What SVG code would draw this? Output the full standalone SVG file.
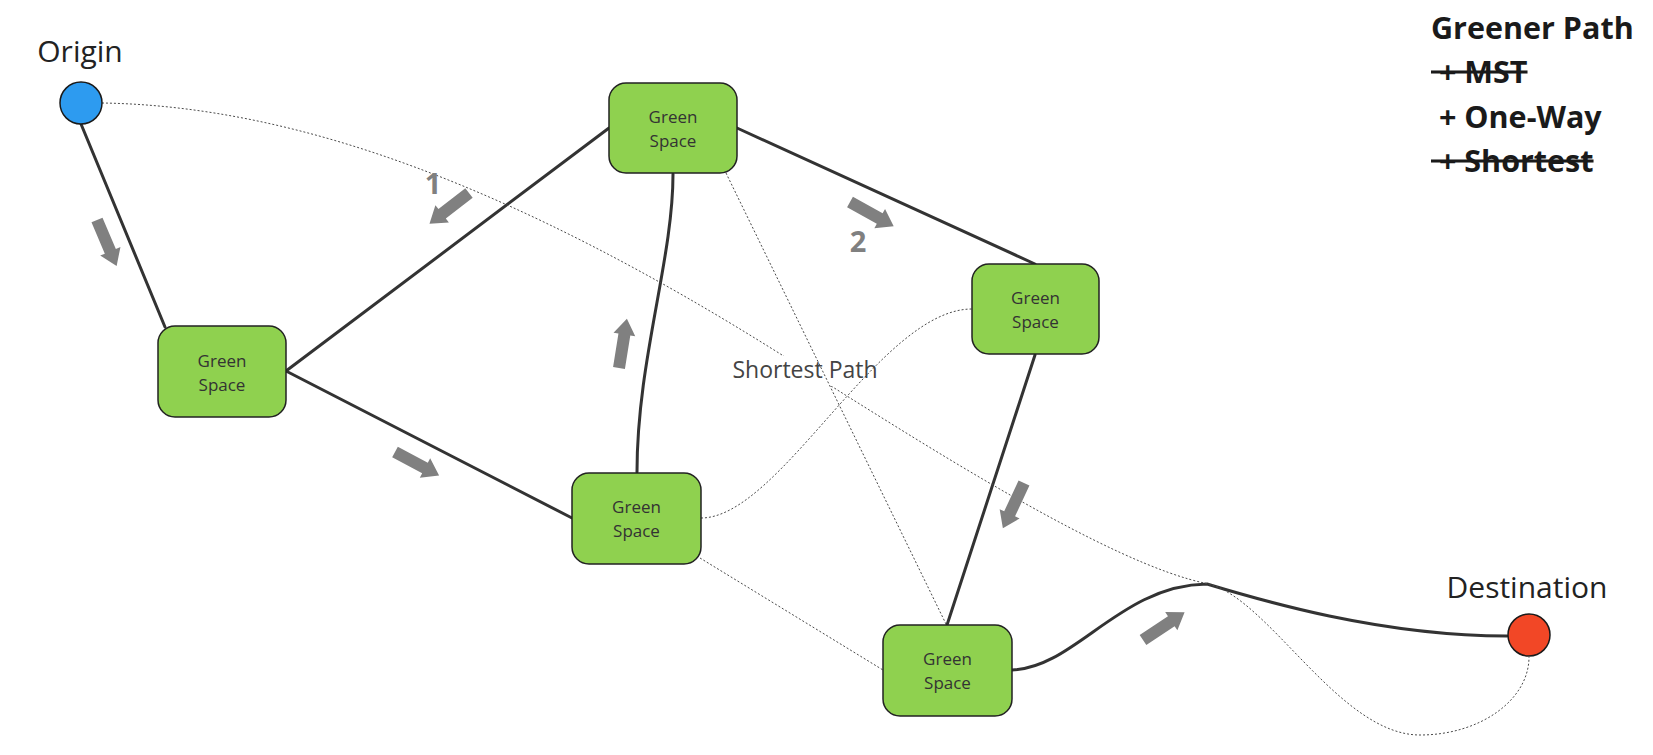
<svg xmlns="http://www.w3.org/2000/svg" xmlns:xlink="http://www.w3.org/1999/xlink" width="1653" height="755" viewBox="0 0 1653 755">
  <style>
    .node rect { fill: #8fd14f; stroke: #222; stroke-width: 1.5; }
    .node text { font-family: "Open Sans", "Noto Sans", sans-serif; font-size: 17px; fill: #333; text-anchor: middle; }
    .term { stroke: #1a1a1a; stroke-width: 1.5; }
    .big { font-family: "Open Sans", "Noto Sans", sans-serif; font-size: 30px; fill: #222; text-anchor: middle; }
    .solid { fill: none; stroke: #333; stroke-width: 3; stroke-linecap: round; }
    .dot { fill: none; stroke: #4a4a4a; stroke-width: 1; stroke-dasharray: 2 2; }
    .num { font-family: "Open Sans", "Noto Sans", sans-serif; font-size: 29px; font-weight: bold; fill: #808080; text-anchor: middle; }
    .legend { font-family: "Open Sans", "Noto Sans", sans-serif; font-size: 30.5px; font-weight: bold; fill: #1a1a1a; }
    .lbl { font-family: "Open Sans", "Noto Sans", sans-serif; font-size: 23px; fill: #444; text-anchor: middle; }
  </style>
  <defs>
    <path id="blockArrow" d="M0,-6 L34,-6 L34,-11 L50,0 L34,11 L34,6 L0,6 Z" fill="#808080"/>
    <mask id="labelGap" maskUnits="userSpaceOnUse" x="0" y="0" width="1653" height="755">
      <rect x="0" y="0" width="1653" height="755" fill="#fff"/>
      <rect x="730" y="356" width="150" height="30" fill="#000"/>
    </mask>
  </defs>
  <rect width="1653" height="755" fill="#fff"/>

  <g id="connectors">
    <!-- solid edges -->
    <line class="solid" x1="81" y1="124" x2="165" y2="327"/>
    <line class="solid" x1="286" y1="371" x2="609" y2="128"/>
    <line class="solid" x1="286" y1="371" x2="572" y2="518"/>
    <line class="solid" x1="737" y1="128" x2="1035" y2="264"/>
    <path class="solid" d="M673,174 C673,260 637,360 637,472"/>
    <line class="solid" x1="1035" y1="355" x2="947" y2="625"/>
    <path class="solid" d="M1012,670 C1075,668 1120,585 1207,584 C1260,600 1380,636 1507,636"/>
    <!-- dotted edges -->
    <path class="dot" mask="url(#labelGap)" d="M102,103 C300,106 520,190 782,355 C920,442 1110,565 1209,584 C1270,600 1340,735 1420,735 C1480,735 1529,700 1529,657"/>
    <line class="dot" x1="726" y1="173" x2="946" y2="624"/>
    <path class="dot" d="M701,518 C780,518 880,309 972,309"/>
    <line class="dot" x1="700" y1="558" x2="883" y2="670"/>
    <text class="lbl" x="805" y="378">Shortest Path</text>
  </g>

  <g id="direction-arrows">
    <use xlink:href="#blockArrow" transform="translate(97,220) rotate(66.9)"/>
    <use xlink:href="#blockArrow" transform="translate(469,193) rotate(142.2)"/>
    <use xlink:href="#blockArrow" transform="translate(395,452) rotate(28.1)"/>
    <use xlink:href="#blockArrow" transform="translate(619,368) rotate(-80.9)"/>
    <use xlink:href="#blockArrow" transform="translate(850,202) rotate(29.1)"/>
    <use xlink:href="#blockArrow" transform="translate(1024,483) rotate(115)"/>
    <use xlink:href="#blockArrow" transform="translate(1143,640) rotate(-33.7)"/>
    <text class="num" x="433" y="194">1</text>
    <text class="num" x="858" y="252">2</text>
  </g>

  <g id="origin">
    <circle class="term" cx="81" cy="103" r="21" fill="#2d9bf0"/>
    <text class="big" x="80" y="62">Origin</text>
  </g>

  <g id="destination">
    <circle class="term" cx="1529" cy="635" r="21" fill="#f24726"/>
    <text class="big" x="1527" y="598">Destination</text>
  </g>

  <g id="gs1" class="node">
    <rect x="158" y="326" width="128" height="91" rx="17"/>
    <text x="222" y="367">Green</text>
    <text x="222" y="391">Space</text>
  </g>
  <g id="gs2" class="node">
    <rect x="609" y="83" width="128" height="90" rx="17"/>
    <text x="673" y="123">Green</text>
    <text x="673" y="147">Space</text>
  </g>
  <g id="gs3" class="node">
    <rect x="972" y="264" width="127" height="90" rx="17"/>
    <text x="1035.5" y="304">Green</text>
    <text x="1035.5" y="328">Space</text>
  </g>
  <g id="gs4" class="node">
    <rect x="572" y="473" width="129" height="91" rx="17"/>
    <text x="636.5" y="513">Green</text>
    <text x="636.5" y="537">Space</text>
  </g>
  <g id="gs5" class="node">
    <rect x="883" y="625" width="129" height="91" rx="17"/>
    <text x="947.5" y="665">Green</text>
    <text x="947.5" y="689">Space</text>
  </g>

  <g id="legend">
    <text class="legend" x="1431" y="39">Greener Path</text>
    <text class="legend" x="1431" y="83" xml:space="preserve" text-decoration="line-through"> + MST</text>
    <text class="legend" x="1431" y="128" xml:space="preserve"> + One-Way</text>
    <text class="legend" x="1431" y="172" xml:space="preserve" text-decoration="line-through"> + Shortest</text>
  </g>
</svg>
